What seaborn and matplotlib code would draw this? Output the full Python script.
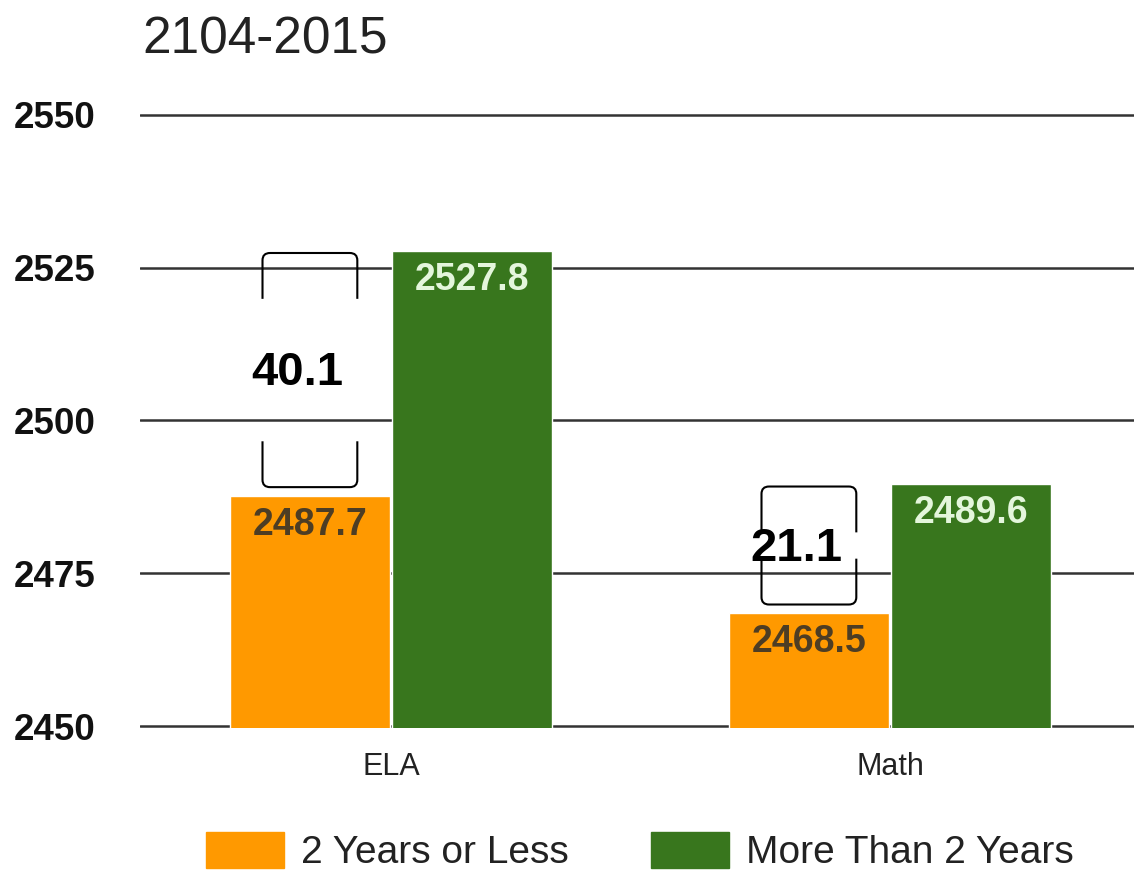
import matplotlib.pyplot as plt
import pandas as pd
import seaborn as sns
from matplotlib.path import Path
from matplotlib.patches import PathPatch

# data
subjects = ['ELA', 'Math']
groups = ['2 Years or Less', 'More Than 2 Years']
less_2 = [2487.7, 2468.5]
more_2 = [2527.8, 2489.6]
y_ticks = [2450, 2475, 2500, 2525, 2550]
title = '2104-2015'

colors = ['#FF9900', '#38761D']
label_colors = ['#4d3d24', '#e4f6dc']

df = pd.DataFrame({
    'subject': subjects * 2,
    'group': [groups[0]] * 2 + [groups[1]] * 2,
    'score': less_2 + more_2,
})

sns.set_style('white')
plt.rcParams['font.family'] = ['Liberation Sans', 'DejaVu Sans']

fig = plt.figure(figsize=(11.34, 8.8), dpi=100)
ax = fig.add_axes([140 / 1134, 1 - 728 / 880, 994 / 1134, 615 / 880])

width = 0.65
sns.barplot(data=df, x='subject', y='score', hue='group', palette=colors,
            saturation=1, width=width, gap=0.015, ax=ax, legend=False,
            zorder=2)

ax.set_ylim(2449.7, 2550.3)
ax.set_xlim(-0.503, 1.489)
ax.set_yticks(y_ticks)
ax.set_yticklabels([str(t) for t in y_ticks], fontsize=26.5,
                   fontweight='bold', color='#111111')
ax.tick_params(axis='y', length=0, pad=32)
ax.tick_params(axis='x', length=0, pad=17, labelsize=22, labelcolor='#222222')
ax.set_xlabel('')
ax.set_ylabel('')
ax.yaxis.grid(True, color='#333333', linewidth=1.8)
ax.set_axisbelow(True)
sns.despine(ax=ax, left=True, bottom=True)

# value labels inside the bars
for cont, lc in zip(ax.containers, label_colors):
    ax.bar_label(cont, fmt='%.1f', padding=-34, fontsize=27, fontweight='bold',
                 color=lc)

# brackets showing the gap between groups
half_w = 0.095
side = 7.5
rx, ry = 0.015, 1.2
for i, (lo, hi) in enumerate(zip(less_2, more_2)):
    xc = i - width / 4
    x0, x1 = xc - half_w, xc + half_w
    top, bot = hi - 0.4, lo + 1.4
    for yend, sgn in [(top, -1), (bot, 1)]:
        verts = [
            (x0, yend + sgn * side),
            (x0, yend + sgn * ry),
            (x0, yend),
            (x0 + rx, yend),
            (x1 - rx, yend),
            (x1, yend),
            (x1, yend + sgn * ry),
            (x1, yend + sgn * side),
        ]
        codes = [Path.MOVETO, Path.LINETO, Path.CURVE3, Path.CURVE3,
                 Path.LINETO, Path.CURVE3, Path.CURVE3, Path.LINETO]
        ax.add_patch(PathPatch(Path(verts, codes), fill=False, lw=1.5,
                               edgecolor='black', zorder=3))
    ax.text(xc - 0.025, (lo + hi) / 2, f'{hi - lo:.1f}', ha='center',
            va='center', fontsize=34, fontweight='bold', color='black',
            zorder=4)

fig.text(142 / 1134, 1 - 15 / 880, title, fontsize=37, color='#222222',
         ha='left', va='top')

handles = [plt.Rectangle((0, 0), 1, 1, color=c) for c in colors]
fig.legend(handles, groups, loc='center', bbox_to_anchor=(640 / 1134, 0.032),
           ncol=2, frameon=False, fontsize=28, handlelength=2.0,
           handleheight=1.05, handletextpad=0.45, columnspacing=2.1,
           labelcolor='#222222')

fig.savefig('out.png', dpi=100)
